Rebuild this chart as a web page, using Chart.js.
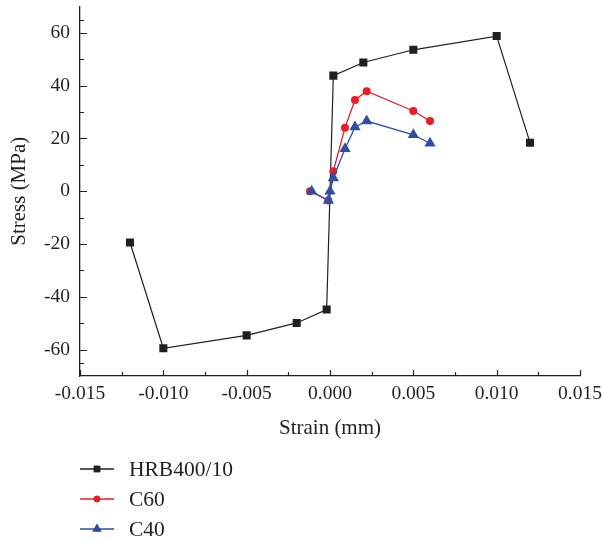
<!DOCTYPE html>
<html>
<head>
<meta charset="utf-8">
<script src="https://cdn.jsdelivr.net/npm/chart.js@4.4.1/dist/chart.umd.min.js"></script>
<style>
  body { margin: 0; background: #fff; }
  canvas { display: block; }
</style>
</head>
<body>
<canvas id="myChart" width="603" height="541"></canvas>
<script>
const ctx = document.getElementById("myChart");

// values
const seriesNames = ["HRB400/10", "C60", "C40"];

const hrbStrain = [-0.012, -0.010, -0.005, -0.002, -0.0002, 0.0002, 0.002, 0.005, 0.010, 0.012];
const hrbStress = [-19.4, -59.5, -54.6, -49.9, -44.8, 43.8, 48.8, 53.6, 58.8, 18.4];

const c60Strain = [-0.0012, -0.0001, 0.0002, 0.0009, 0.0015, 0.0022, 0.005, 0.006];
const c60Stress = [0, -3.5, 7.6, 24.1, 34.6, 37.9, 30.4, 26.6];

const c40Strain = [-0.0011, -0.0001, 0, 0.0002, 0.0009, 0.0015, 0.0022, 0.005, 0.006];
const c40Stress = [0, -3.5, 0, 5, 16.1, 24.3, 26.6, 21.4, 18.2];

const xTicks = [-0.015, -0.010, -0.005, 0, 0.005, 0.010, 0.015];
const yTicks = [-60, -40, -20, 0, 20, 40, 60];

const ink = "#231f20";
const fontFamily = "'Liberation Serif', 'DejaVu Serif', serif";

let toPoints = (xs, ys) => xs.map((x, i) => ({ x: x, y: ys[i] }));

// no extra room for overhanging labels, the plot box is fixed
let noPad = (scale) => {
    scale.paddingTop = 0;
    scale.paddingBottom = 0;
    scale.paddingLeft = 0;
    scale.paddingRight = 0;
};

// ticks point inwards in the reference, so draw them by hand
const innerTicks = {
    id: "innerTicks",
    afterDatasetsDraw(chart) {
        const c = chart.ctx;
        const xs = chart.scales.x, ys = chart.scales.y;
        const area = chart.chartArea;
        c.save();
        c.strokeStyle = ink;
        c.lineWidth = 1.2;
        c.beginPath();
        for (let i = 0; i < xTicks.length; i++) {
            let px = Math.round(xs.getPixelForValue(xTicks[i])) + 0.5;
            c.moveTo(px, area.bottom);
            c.lineTo(px, area.bottom - 6);
            if (i < xTicks.length - 1) {
                let mx = Math.round(xs.getPixelForValue((xTicks[i] + xTicks[i + 1]) / 2)) + 0.5;
                c.moveTo(mx, area.bottom);
                c.lineTo(mx, area.bottom - 4);
            }
        }
        let yAll = [-70].concat(yTicks).concat([70]);
        for (let i = 0; i < yTicks.length; i++) {
            let py = Math.round(ys.getPixelForValue(yTicks[i])) + 0.5;
            c.moveTo(area.left, py);
            c.lineTo(area.left + 7, py);
        }
        for (let i = 0; i < yAll.length - 1; i++) {
            let my = Math.round(ys.getPixelForValue((yAll[i] + yAll[i + 1]) / 2)) + 0.5;
            c.moveTo(area.left, my);
            c.lineTo(area.left + 4, my);
        }
        c.stroke();
        c.restore();
    }
};

// legend stacked under the axis title, like the original
const stackedLegend = {
    id: "stackedLegend",
    afterDraw(chart) {
        const c = chart.ctx;
        const order = [0, 1, 2];
        c.save();
        c.font = "21.5px " + fontFamily;
        c.textBaseline = "middle";
        c.fillStyle = ink;
        order.forEach((idx, row) => {
            const ds = chart.data.datasets[idx];
            const y = 469 + row * 30;
            c.strokeStyle = ds.borderColor;
            c.lineWidth = 1.3;
            c.beginPath();
            c.moveTo(80, y);
            c.lineTo(114, y);
            c.stroke();
            Chart.helpers.drawPoint(c, {
                pointStyle: ds.pointStyle,
                radius: ds.pointRadius * 0.8,
                borderWidth: 0
            }, 97, y);
            c.fillStyle = ds.backgroundColor;
            c.fill();
            c.fillStyle = ink;
            c.fillText(ds.label, 129, y + 1);
        });
        c.restore();
    }
};

let chart = new Chart(ctx, {
    type: "line",
    data: {
        datasets: [
            {
                label: seriesNames[0],
                data: toPoints(hrbStrain, hrbStress),
                borderColor: ink,
                backgroundColor: ink,
                borderWidth: 1.2,
                pointStyle: "rect",
                pointRadius: 5.7,
                pointBorderWidth: 0,
                order: 2
            },
            {
                label: seriesNames[1],
                data: toPoints(c60Strain, c60Stress),
                borderColor: "#ed1c24",
                backgroundColor: "#ed1c24",
                borderWidth: 1.3,
                pointStyle: "circle",
                pointRadius: 4,
                pointBorderWidth: 0,
                order: 1
            },
            {
                label: seriesNames[2],
                data: toPoints(c40Strain, c40Stress),
                borderColor: "#2e50a2",
                backgroundColor: "#2e50a2",
                borderWidth: 1.3,
                pointStyle: "triangle",
                pointRadius: 6.5,
                pointBorderWidth: 0,
                order: 0
            }
        ]
    },
    plugins: [innerTicks, stackedLegend],
    options: {
        responsive: false,
        animation: false,
        layout: {
            padding: { top: 6, right: 23, bottom: 100, left: 0 }
        },
        scales: {
            x: {
                type: "linear",
                min: -0.015,
                max: 0.015,
                afterBuildTicks: (scale) => { scale.ticks = xTicks.map(v => ({ value: v })); },
                afterFit: (scale) => { scale.height = 65; noPad(scale); },
                grid: { display: false, drawTicks: false },
                border: { display: true, color: ink, width: 1.3 },
                ticks: {
                    color: ink,
                    padding: 6,
                    maxRotation: 0,
                    font: { size: 19.5, family: fontFamily },
                    callback: (v) => (Math.abs(v) < 1e-9 ? 0 : v).toFixed(3)
                },
                title: {
                    display: true,
                    text: "Strain (mm)",
                    color: ink,
                    padding: 0,
                    font: { size: 21, family: fontFamily }
                }
            },
            y: {
                type: "linear",
                min: -70,
                max: 70,
                afterBuildTicks: (scale) => { scale.ticks = yTicks.map(v => ({ value: v })); },
                afterFit: (scale) => { scale.width = 80; noPad(scale); },
                grid: { display: false, drawTicks: false },
                border: { display: true, color: ink, width: 1.3 },
                ticks: {
                    color: ink,
                    padding: 10,
                    font: { size: 19.5, family: fontFamily }
                },
                title: {
                    display: true,
                    text: "Stress (MPa)",
                    color: ink,
                    padding: { top: 7, bottom: 0 },
                    font: { size: 21, family: fontFamily }
                }
            }
        },
        plugins: {
            legend: { display: false },
            tooltip: { enabled: false }
        }
    }
});
</script>
</body>
</html>
